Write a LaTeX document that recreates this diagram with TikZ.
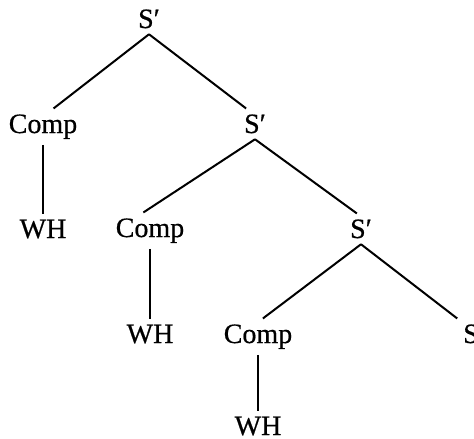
\documentclass[tikz,border=0pt]{standalone}
\usepackage{fontspec}
\setmainfont{Liberation Serif}[BoldFont={Liberation Serif}, BoldFeatures={FakeBold=0.6}]
\begin{document}
\begin{tikzpicture}[x=1pt, y=-1pt, line width=2pt]
\tikzstyle{cat}=[anchor=base, inner sep=5pt, font=\fontsize{28}{30}\selectfont\bfseries]
    \useasboundingbox (0,0) rectangle (474,439);
    \node (sbar1) [cat] at (149,28) {S′};
    \node (comp1) [cat] at (43,133) {Comp};
    \node (wh1) [cat] at (43,238) {WH};
    \node (sbar2) [cat] at (255,133) {S′};
    \node (comp2) [cat] at (150,237) {Comp};
    \node (wh2) [cat] at (150,343) {WH};
    \node (sbar3) [cat] at (361,238) {S′};
    \node (comp3) [cat] at (258,343) {Comp};
    \node (wh3) [cat] at (258,435) {WH};
    \node (s) [cat] at (471,343) {S};
    \draw (sbar1.south) -- (comp1.60);
    \draw (sbar1.south) -- (sbar2.120);
    \draw (comp1.south) -- (wh1.north);
    \draw (sbar2.south) -- (comp2.110);
    \draw (sbar2.south) -- (sbar3.105);
    \draw (comp2.south) -- (wh2.north);
    \draw (sbar3.south) -- (comp3.75);
    \draw (sbar3.south) -- (s.north west);
    \draw (comp3.south) -- (wh3.north);
\end{tikzpicture}
\end{document}
